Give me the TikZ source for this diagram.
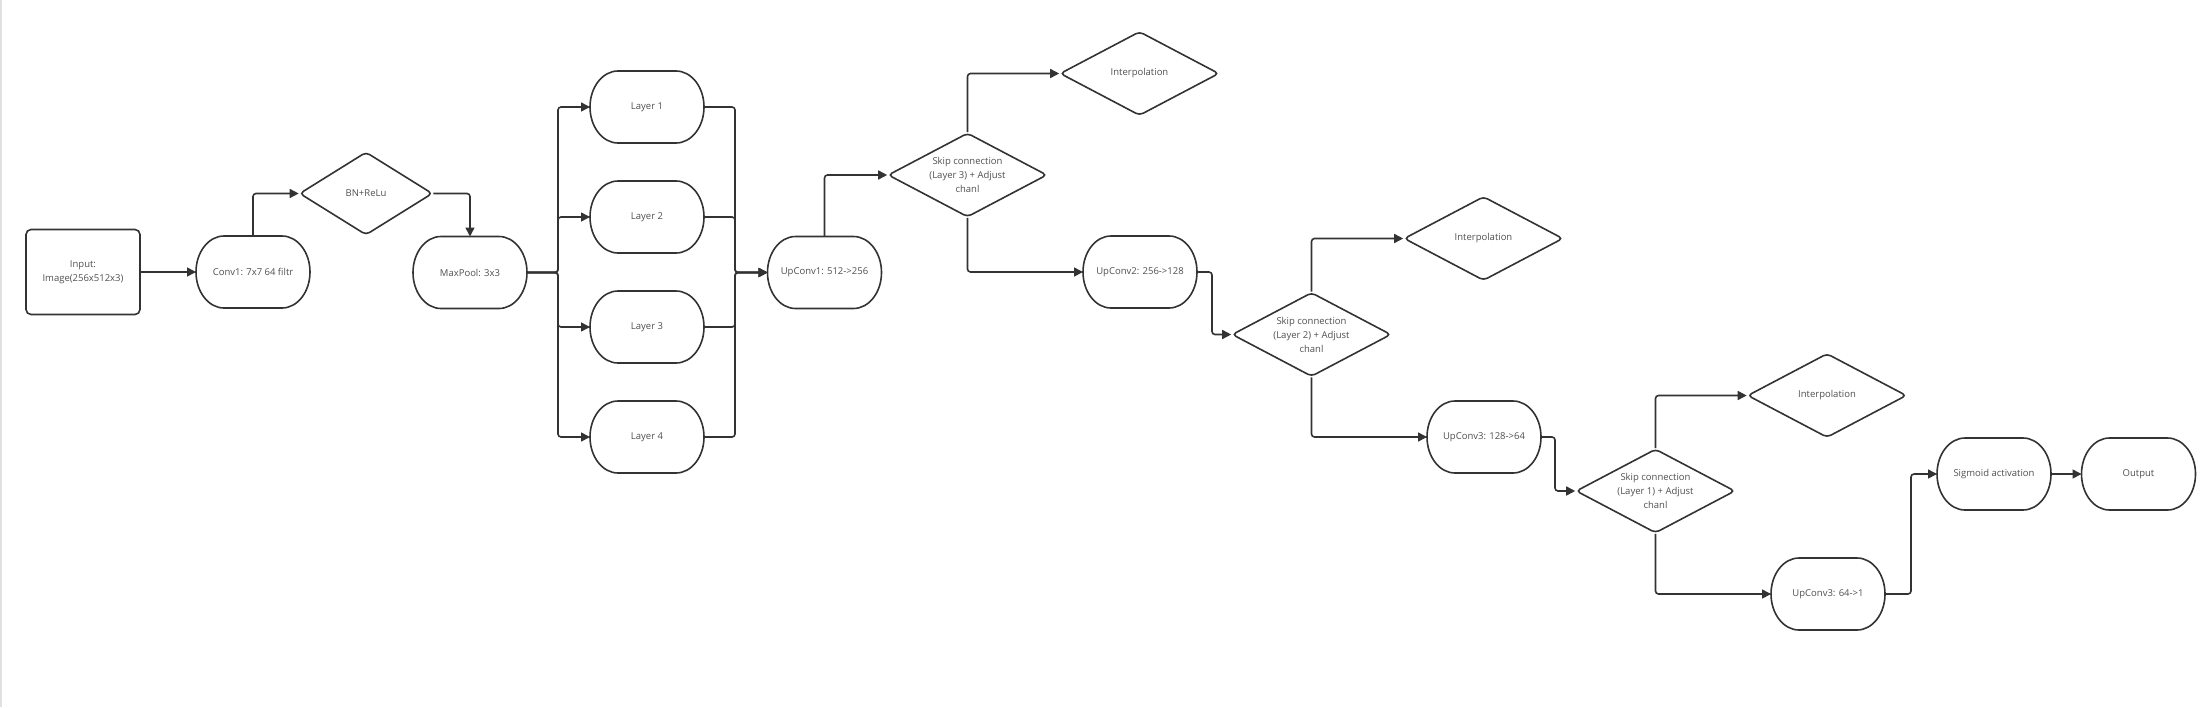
\documentclass[tikz,border=0pt]{standalone}
\usepackage{fontspec}
\setmainfont{Open Sans}
\usetikzlibrary{shapes.geometric,arrows.meta}
\definecolor{ln}{HTML}{333333}
\definecolor{tx}{HTML}{505050}
\newcommand\stadline[1]{%
  \draw[draw=ln, line width=1.6pt]
    ([xshift=28pt]#1.north west) -- ([xshift=-28pt]#1.north east)
    arc[start angle=90, end angle=-90, x radius=28pt, y radius=36pt]
    -- ([xshift=28pt]#1.south west)
    arc[start angle=270, end angle=90, x radius=28pt, y radius=36pt] -- cycle;}
\begin{document}
\begin{tikzpicture}[x=1pt, y=-1pt,
  every node/.style={font=\fontsize{9.5}{14}\selectfont, text=tx},
  stad/.style={rectangle, minimum width=114pt, minimum height=72pt, inner sep=0pt, outer sep=0pt},
  inbox/.style={draw=ln, line width=1.6pt, rectangle, rounded corners=5pt, minimum width=114pt, minimum height=85pt, align=center, inner sep=0pt},
  dia/.style={draw=ln, line width=1.6pt, diamond, aspect=1.9, minimum width=159pt, minimum height=84pt, inner sep=0pt, align=center, rounded corners=4pt},
  conn/.style={draw=ln, line width=1.6pt, rounded corners=3pt, -{Triangle[length=9pt,width=9pt]}},
  plain/.style={draw=ln, line width=1.6pt, rounded corners=3pt}
]
\fill[white] (0,0) rectangle (2208,707);
\useasboundingbox (0,0) rectangle (2208,707);
\draw[black!12, line width=1.5pt] (1,0) -- (1,707);

% nodes
\node[inbox] (inp) at (83,272) {Input:\\Image(256x512x3)};
\node[stad] (conv1) at (253,272) {Conv1: 7x7 64 filtr};
\node[dia, minimum width=133pt, minimum height=83pt, aspect=1.6] (bn) at (366,193.5) {BN+ReLu};
\node[stad] (maxpool) at (470,272.5) {MaxPool: 3x3};
\node[stad] (l1) at (647,107) {Layer 1};
\node[stad] (l2) at (647,217) {Layer 2};
\node[stad] (l3) at (647,327) {Layer 3};
\node[stad] (l4) at (647,437) {Layer 4};
\node[stad] (up1) at (824.5,272.5) {UpConv1: 512->256};
\node[dia] (skip3) at (967.5,175) {Skip connection\\(Layer 3) + Adjust\\chanl};
\node[dia] (int1) at (1139.5,73.5) {Interpolation};
\node[stad] (up2) at (1140,272) {UpConv2: 256->128};
\node[dia] (skip2) at (1311.5,334.5) {Skip connection\\(Layer 2) + Adjust\\chanl};
\node[dia] (int2) at (1483.5,238.5) {Interpolation};
\node[stad] (up3) at (1484,437) {UpConv3: 128->64};
\node[dia] (skip1) at (1655.5,491) {Skip connection\\(Layer 1) + Adjust\\chanl};
\node[dia] (int3) at (1827,395.5) {Interpolation};
\node[stad] (up4) at (1828,594) {UpConv3: 64->1};
\node[stad] (sig) at (1994,474) {Sigmoid activation};
\node[stad] (out) at (2138.5,474) {Output};

\foreach \n in {conv1,maxpool,l1,l2,l3,l4,up1,up2,up3,up4,sig,out}{\stadline{\n}}

\coordinate (busL) at (558,272.5);
\coordinate (busR) at (735,272.5);

% connectors
\draw[conn] (inp.east) -- (conv1.west);
\draw[conn] (conv1.north) |- (bn.west);
\draw[conn] (bn.east) -| (maxpool.north);
\foreach \n in {l1,l2,l3,l4}{
  \draw[conn] (maxpool.east) -- (busL) |- (\n.west);
  \draw[conn] (\n.east) -| (busR) -- (up1.west);
}
\draw[conn] (up1.north) |- (skip3.west);
\draw[conn] (skip3.north) |- (int1.west);
\draw[conn] (skip3.south) |- (up2.west);
\draw[conn] (up2.east) -- ++(15,0) |- (skip2.west);
\draw[conn] (skip2.north) |- (int2.west);
\draw[conn] (skip2.south) |- (up3.west);
\draw[conn] (up3.east) -- ++(14,0) |- (skip1.west);
\draw[conn] (skip1.north) |- (int3.west);
\draw[conn] (skip1.south) |- (up4.west);
\draw[conn] (up4.east) -- ++(26,0) |- (sig.west);
\draw[conn] (sig.east) -- (out.west);
\end{tikzpicture}
\end{document}
